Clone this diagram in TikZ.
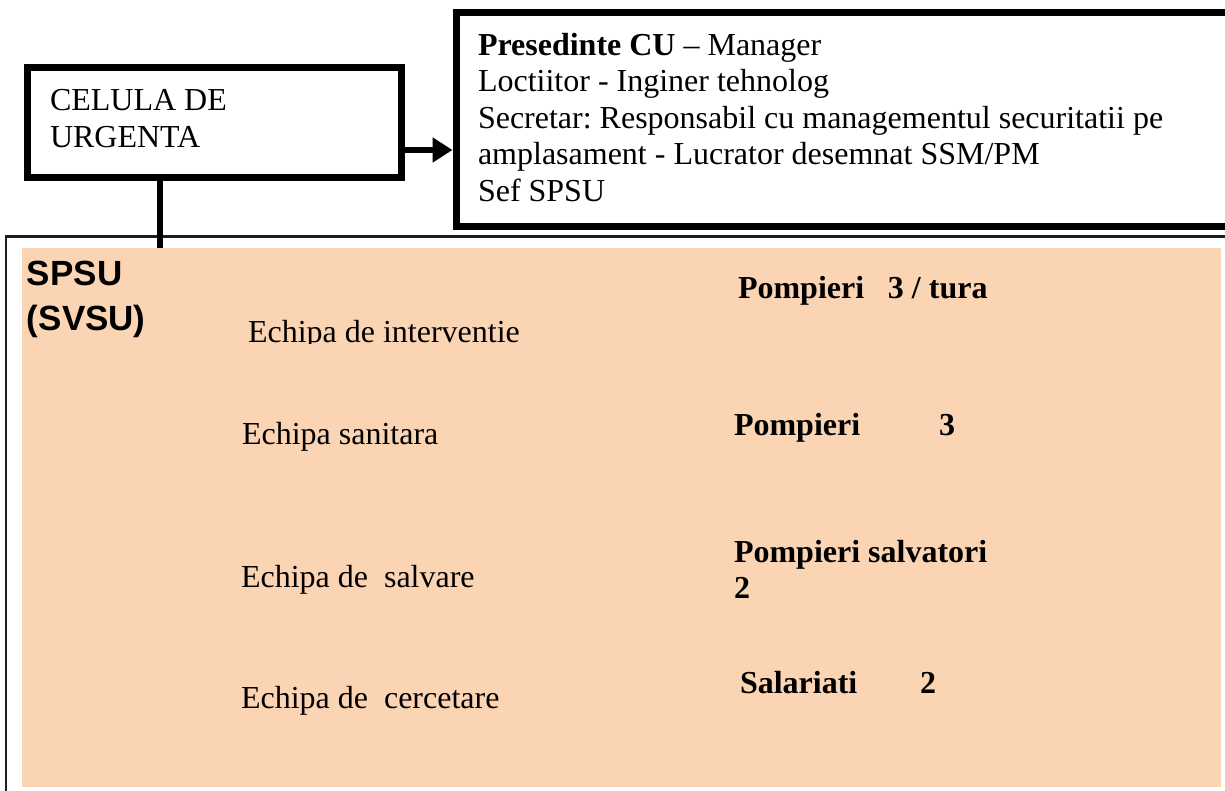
\documentclass[tikz,border=0pt]{standalone}
\usepackage{fontspec}
\setmainfont{Liberation Serif}
\setsansfont{Liberation Sans}
\usetikzlibrary{arrows.meta}
\definecolor{peach}{RGB}{251,212,180}
\definecolor{framegray}{RGB}{30,30,30}
\frenchspacing
\begin{document}
\begin{tikzpicture}[x=1pt,y=-1pt,
  thickbox/.style={draw=black, line width=7pt, fill=white, inner sep=0pt},
  areabox/.style={draw=none, fill=peach, inner sep=0pt, outer sep=0pt},
  conn/.style={line width=6pt, draw=black},
  txt/.style={anchor=base west, inner sep=0pt, outer sep=0pt, font=\fontsize{32}{36}\selectfont},
  btxt/.style={anchor=base west, inner sep=0pt, outer sep=0pt, font=\fontsize{32}{36}\selectfont\bfseries},
  stxt/.style={anchor=base west, inner sep=0pt, outer sep=0pt, font=\fontsize{35}{40}\selectfont\sffamily\bfseries},
]
\useasboundingbox (0,0) rectangle (1225,790);

% outer thin frame
\draw[framegray, line width=2.5pt] (6.2,236.5) rectangle (1245,805);
% peach area
\node[areabox, minimum width=1199pt, minimum height=539pt] (area) at (621.5,517.5) {};

% boxes
\node[thickbox, minimum width=374pt, minimum height=110pt] (cel) at (214,122) {};
\node[thickbox, minimum width=789pt, minimum height=214.5pt] (pres) at (850.5,119.25) {};

% connectors
\coordinate (ay) at (0,150);
\coordinate (cx) at (160,0);
\draw[conn] (cel.south -| cx) -- (area.north -| cx);
\draw[conn, -{Triangle[length=20pt,width=24pt]}] (cel.east |- ay) -- (pres.west |- ay);

% left box text
\node[txt] (c1) at (50,110) {CELULA DE};
\node[txt] (c2) at (50,147) {URGENTA};

% right box text
\node[txt] (p1) at (478,55) {\textbf{Presedinte CU} – Manager};
\node[txt] (p2) at (478,91.5) {Loctiitor - Inginer tehnolog};
\node[txt] (p3) at (478,128) {Secretar: Responsabil cu managementul securitatii pe};
\node[txt] (p4) at (478,164.5) {amplasament - Lucrator desemnat SSM/PM};
\node[txt] (p5) at (478,201) {Sef SPSU};

% area text
\node[stxt] (s1) at (27,285) {SPSU};
\node[stxt] (s2) at (27,330) {(SVSU)};

\begin{scope}
  \clip (0,0) rectangle (1225,343);
  \node[txt] (e1) at (248,342) {Echipa de interventie};
\end{scope}
\node[txt] (e2) at (242,444) {Echipa sanitara};
\node[txt] (e3) at (241,587) {Echipa de\ \ salvare};
\node[txt] (e4) at (241,708) {Echipa de\ \ cercetare};

\node[btxt] (r1) at (738,298) {Pompieri\hspace{23.8pt}3 / tura};
\node[btxt] (r2) at (734,435) {Pompieri\hspace{78.8pt}3};
\node[btxt] (r3) at (734,562) {Pompieri salvatori};
\node[btxt] (r3b) at (734,598) {2};
\node[btxt] (r4) at (740,693) {Salariati\hspace{62.7pt}2};
\end{tikzpicture}
\end{document}
